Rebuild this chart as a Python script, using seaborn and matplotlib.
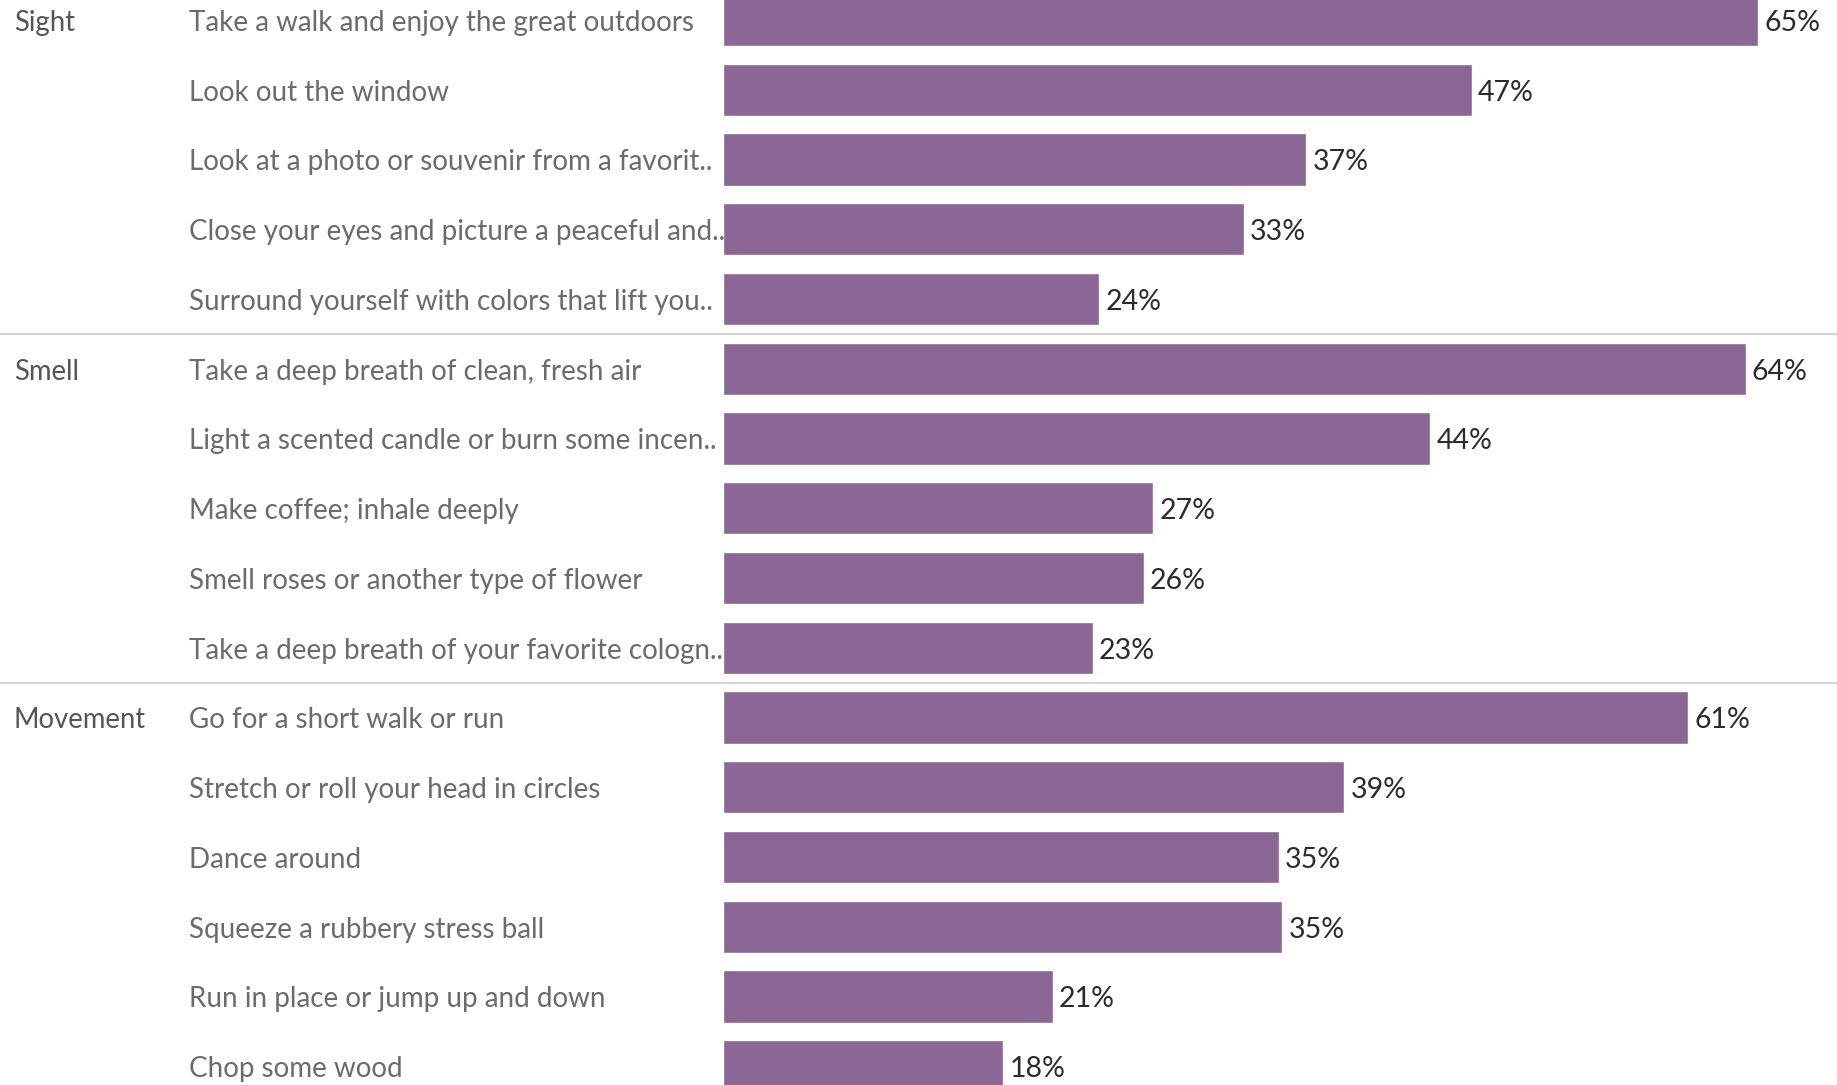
import matplotlib
matplotlib.use("Agg")
import matplotlib.pyplot as plt
import matplotlib.transforms as mtransforms
import seaborn as sns
import pandas as pd

# Survey: sensory ways people calm themselves, share of respondents (%)
groups = ["Sight"] * 5 + ["Smell"] * 5 + ["Movement"] * 6
items = [
    "Take a walk and enjoy the great outdoors",
    "Look out the window",
    "Look at a photo or souvenir from a favorit..",
    "Close your eyes and picture a peaceful and..",
    "Surround yourself with colors that lift you..",
    "Take a deep breath of clean, fresh air",
    "Light a scented candle or burn some incen..",
    "Make coffee; inhale deeply",
    "Smell roses or another type of flower",
    "Take a deep breath of your favorite cologn..",
    "Go for a short walk or run",
    "Stretch or roll your head in circles",
    "Dance around",
    "Squeeze a rubbery stress ball",
    "Run in place or jump up and down",
    "Chop some wood",
]
shares = [65.0, 47.0, 36.6, 32.7, 23.6,
          64.2, 44.4, 27.0, 26.4, 23.2,
          60.6, 39.0, 34.9, 35.1, 20.7, 17.6]

df = pd.DataFrame({"group": groups, "item": items, "share": shares})

W, H, DPI = 1837, 1085, 100
BAR_COLOR = "#8a6794"
ITEM_COLOR = "#6b6b6b"
GROUP_COLOR = "#555555"
VALUE_COLOR = "#2b2b2b"
FONT = ["Lato", "DejaVu Sans"]

sns.set_theme(style="white")
plt.rcParams["font.family"] = FONT

fig = plt.figure(figsize=(W / DPI, H / DPI), dpi=DPI)
left = 723 / W
ax = fig.add_axes([left, 0, 1 - left, 1])

sns.barplot(data=df, x="share", y="item", order=items, orient="h",
            color=BAR_COLOR, saturation=1, width=0.75, ax=ax)

px_per_unit = 15.93
ax.set_xlim(0, (W - 723) / px_per_unit)
row_px = 69.75
top_px = 20
ax.set_ylim((H - top_px) / row_px, -top_px / row_px)

ax.set_xlabel("")
ax.set_ylabel("")
ax.set_xticks([])
ax.set_yticks([])
for s in ax.spines.values():
    s.set_visible(False)

# value labels just past the bar ends
for i, v in enumerate(df["share"]):
    ax.annotate(f"{v:.0f}%", xy=(v, i + 0.04), xytext=(4.5, 0),
                textcoords="offset points", ha="left", va="center",
                fontsize=20.5, color=VALUE_COLOR, annotation_clip=False)

# row labels in figure-x / data-y coordinates
trans = mtransforms.blended_transform_factory(fig.transFigure, ax.transData)
for i, (g, it) in enumerate(zip(df["group"], df["item"])):
    ax.text(189 / W, i + 0.04, it, transform=trans, ha="left", va="center",
            fontsize=20.0, color=ITEM_COLOR, fontweight="normal", clip_on=False)
    if i == 0 or df["group"].iloc[i - 1] != g:
        ax.text(14 / W, i + 0.04, g, transform=trans, ha="left", va="center",
                fontsize=19.8, color=GROUP_COLOR, fontweight="normal",
                clip_on=False)

# separators between groups spanning the full width
bounds = [i - 0.5 for i in range(1, len(groups)) if groups[i] != groups[i - 1]]
for b in bounds:
    ax.plot([0, 1], [b, b], transform=trans, color="#d4d4d4", lw=1.5,
            clip_on=False, zorder=0)

fig.savefig("out.png", dpi=DPI, facecolor="white")
